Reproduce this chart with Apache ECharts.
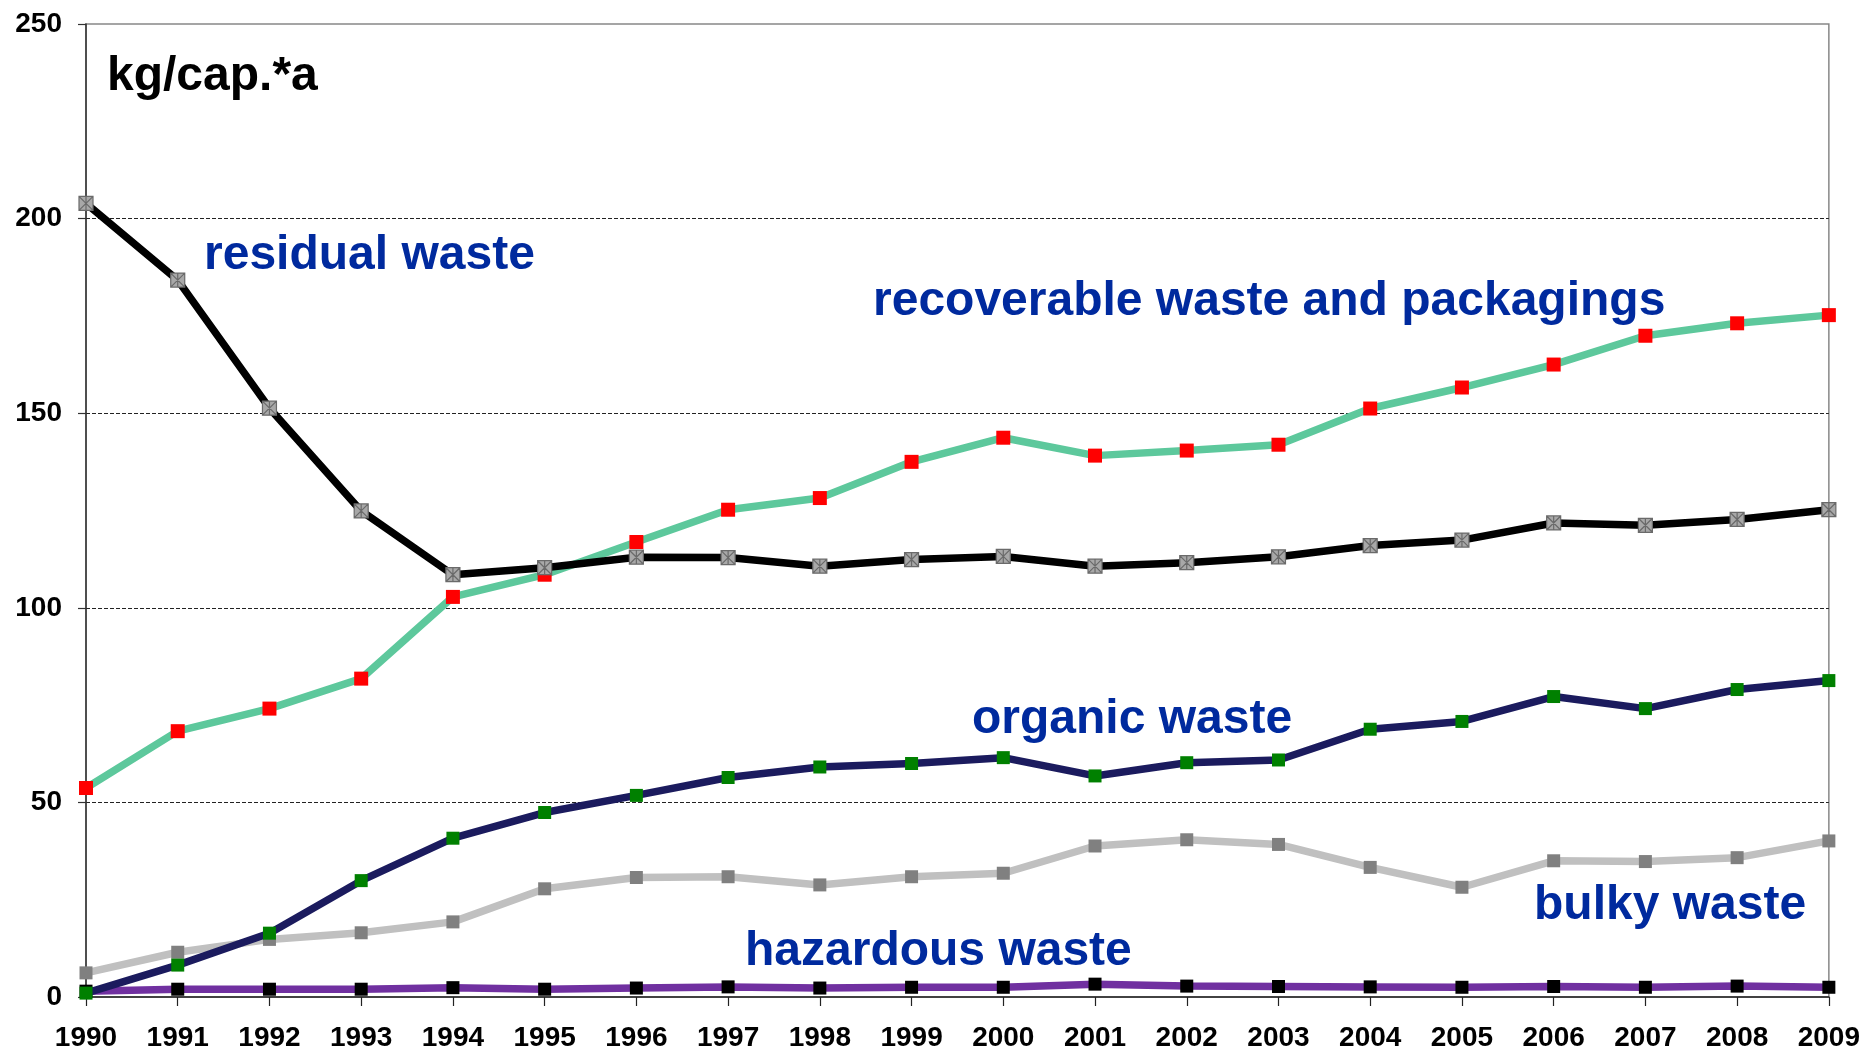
<!DOCTYPE html>
<html>
<head>
<meta charset="utf-8">
<script src="https://cdn.jsdelivr.net/npm/echarts@6/dist/echarts.min.js"></script>
<style>
html,body{margin:0;padding:0;background:#fff;}
#chart{width:1863px;height:1052px;}
</style>
</head>
<body>
<div id="chart"></div>
<script>
const years = ['1990','1991','1992','1993','1994','1995','1996','1997','1998','1999','2000','2001','2002','2003','2004','2005','2006','2007','2008','2009'];
const residualWaste = [203.9,184.2,151.3,124.9,108.5,110.3,113.0,112.9,110.7,112.4,113.2,110.7,111.6,113.1,116.0,117.4,121.8,121.2,122.7,125.2];
const recoverableWaste = [53.7,68.3,74.1,81.8,102.8,108.5,116.9,125.2,128.2,137.5,143.7,139.1,140.4,141.9,151.2,156.6,162.5,169.9,173.1,175.2];
const organicWaste = [1.0,8.2,16.4,29.9,40.8,47.4,51.8,56.4,59.1,60.0,61.5,56.8,60.2,60.9,68.8,70.8,77.2,74.1,79.0,81.3];
const bulkyWaste = [6.2,11.5,14.8,16.5,19.3,27.8,30.7,30.9,28.8,30.9,31.8,38.8,40.4,39.2,33.3,28.2,35.0,34.8,35.8,40.1];
const hazardousWaste = [1.5,2.0,2.0,2.0,2.4,2.0,2.3,2.6,2.3,2.5,2.5,3.3,2.8,2.7,2.6,2.5,2.7,2.5,2.8,2.5];
const yTicks = [0,50,100,150,200,250];

const FONT = "'Liberation Sans', Arial, sans-serif";
const BLUE = '#002a9e';
const starPath = 'path://M0,0 L10,0 L10,10 L0,10 Z M0,0 L10,10 M10,0 L0,10 M5,0 L5,10';

const chart = echarts.init(document.getElementById('chart'));

function lineSeries(name, data, lineColor, markColor, symbol, size, extra) {
  return Object.assign({
    name: name,
    type: 'line',
    data: data,
    symbol: symbol,
    symbolSize: size,
    showAllSymbol: true,
    lineStyle: {color: lineColor, width: 7.5},
    itemStyle: {color: markColor},
    emphasis: {disabled: true},
    animation: false
  }, extra || {});
}

function label(text, x, baseline, color, size) {
  return {
    type: 'text',
    left: x,
    top: baseline - size * 0.93,
    z: 100,
    style: {
      text: text,
      fill: color,
      font: 'bold ' + size + 'px ' + FONT
    }
  };
}

chart.setOption({
  animation: false,
  backgroundColor: '#fff',
  grid: {
    left: 86, right: 34, top: 24, bottom: 55,
    show: true, borderColor: '#888', borderWidth: 1.5, backgroundColor: 'transparent'
  },
  xAxis: {
    type: 'category',
    data: years,
    boundaryGap: false,
    axisLine: {lineStyle: {color: '#222', width: 1.5}},
    axisTick: {show: true, alignWithLabel: true, length: 9, lineStyle: {color: '#222', width: 1.2}},
    axisLabel: {color: '#000', fontSize: 28, fontWeight: 'bold', fontFamily: FONT, margin: 27, interval: 0},
    splitLine: {show: false}
  },
  yAxis: {
    type: 'value',
    min: yTicks[0],
    max: yTicks[yTicks.length - 1],
    interval: yTicks[1] - yTicks[0],
    axisLine: {show: true, lineStyle: {color: '#333', width: 1.5}},
    axisTick: {show: true, length: 8, lineStyle: {color: '#333', width: 1.2}},
    axisLabel: {color: '#000', fontSize: 28, fontWeight: 'bold', fontFamily: FONT, margin: 24},
    splitLine: {show: true, lineStyle: {color: ['transparent','#222','#222','#222','#222','transparent'], type: [4, 2], width: 1}}
  },
  series: [
    lineSeries('hazardous waste', hazardousWaste, '#7030a0', '#000000', 'rect', 13, {z: 2}),
    lineSeries('bulky waste', bulkyWaste, '#c0c0c0', '#808080', 'rect', 13, {z: 3}),
    lineSeries('organic waste', organicWaste, '#1b1b5e', '#008000', 'rect', 13, {z: 4}),
    lineSeries('recoverable waste and packagings', recoverableWaste, '#5dc89c', '#ff0000', 'rect', 14, {z: 5}),
    lineSeries('residual waste', residualWaste, '#000000', '#a8a8a8', starPath, 14, {
      z: 6,
      itemStyle: {color: '#a8a8a8', borderColor: '#6a6a6a', borderWidth: 1.2}
    })
  ],
  graphic: [
    label('kg/cap.*a', 107, 97, '#000', 48),
    label('residual waste', 204, 276, BLUE, 48),
    label('recoverable waste and packagings', 873, 322, BLUE, 48),
    label('organic waste', 972, 740, BLUE, 48),
    label('bulky waste', 1534, 926, BLUE, 48),
    label('hazardous waste', 745, 972, BLUE, 48)
  ]
});
</script>
</body>
</html>
